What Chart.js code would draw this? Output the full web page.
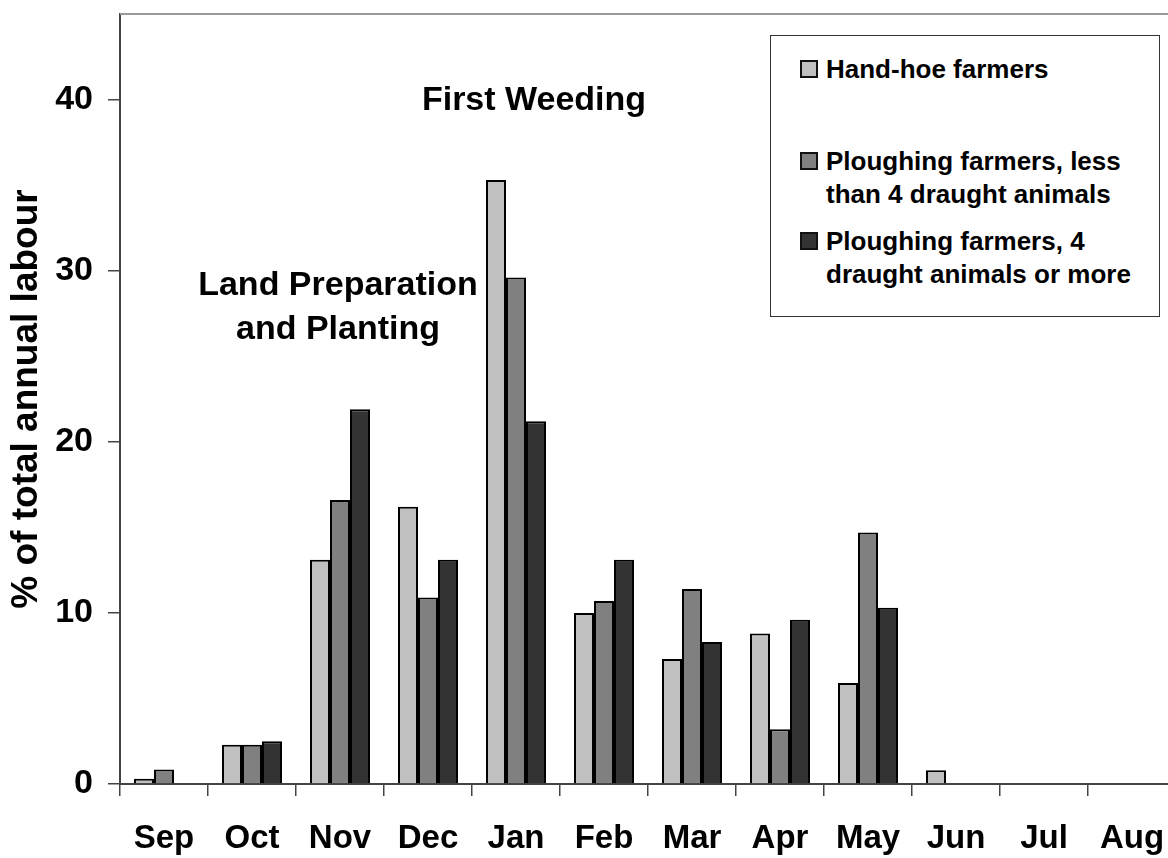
<!DOCTYPE html>
<html>
<head>
<meta charset="utf-8">
<title>Labour by month</title>
<script src="https://cdn.jsdelivr.net/npm/chart.js@4.4.0/dist/chart.umd.min.js"></script>
<style>
  html, body { margin: 0; padding: 0; background: #fff; overflow: hidden; }
  #wrap { position: relative; width: 1168px; height: 858px; overflow: hidden; }
  #chart { position: absolute; left: 0; top: 0; }
  .note {
    position: absolute;
    font: bold 34px "Liberation Sans", Arial, sans-serif;
    color: #000;
    text-align: center;
    line-height: 44px;
    white-space: nowrap;
    transform: translate(-50%, -50%);
  }
  #legend {
    position: absolute; left: 770px; top: 35px; width: 390px; height: 282px;
    box-sizing: border-box; border: 1px solid #333; background: #fff;
  }
  .item { position: absolute; left: 29px; width: 350px; }
  .swatch { position: absolute; left: 0; width: 18px; height: 18px; box-sizing: border-box; border: 2px solid #111; }
  .label {
    position: absolute; left: 26px; width: 320px;
    font: bold 26px "Liberation Sans", Arial, sans-serif; line-height: 33px; color: #000;
  }
</style>
</head>
<body>
<div id="wrap">
  <canvas id="chart" width="1180" height="858"></canvas>
  <div class="note" style="left:534px; top:98px;">First Weeding</div>
  <div class="note" style="left:338px; top:305px;">Land Preparation<br>and Planting</div>
  <div id="legend"></div>
</div>
<script>
// data (% of total annual labour)
const months = ["Sep", "Oct", "Nov", "Dec", "Jan", "Feb", "Mar", "Apr", "May", "Jun", "Jul", "Aug"];
const seriesNames = [
    "Hand-hoe farmers",
    "Ploughing farmers, less than 4 draught animals",
    "Ploughing farmers, 4 draught animals or more"
];
const handHoe     = [0.3, 2.3, 13.1, 16.2, 35.3, 10.0, 7.3, 8.8, 5.9, 0.8, null, null];
const ploughLess4 = [0.85, 2.3, 16.6, 10.9, 29.6, 10.7, 11.4, 3.2, 14.7, null, null, null];
const plough4More = [null, 2.5, 21.9, 13.1, 21.2, 13.1, 8.3, 9.6, 10.3, null, null, null];
const seriesColors = ["#c0c0c0", "#808080", "#333333"];

const boldFont = (size) => ({ family: '"Liberation Sans", Arial, sans-serif', size: size, weight: "bold" });

// grey line along the top of the plot area
const frameTop = {
    id: "frameTop",
    afterDraw(chart) {
        const { ctx, chartArea } = chart;
        ctx.save();
        ctx.strokeStyle = "#999";
        ctx.lineWidth = 2;
        ctx.beginPath();
        ctx.moveTo(chartArea.left, chartArea.top);
        ctx.lineTo(chartArea.right, chartArea.top);
        ctx.stroke();
        ctx.restore();
    }
};

const ctx = document.getElementById("chart").getContext("2d");
const chart = new Chart(ctx, {
    type: "bar",
    data: {
        labels: months,
        datasets: [handHoe, ploughLess4, plough4More].map((values, i) => ({
            label: seriesNames[i],
            data: values,
            backgroundColor: seriesColors[i],
            borderColor: "#000",
            borderWidth: 2,
            barPercentage: 1.0,
            categoryPercentage: 0.682
        }))
    },
    options: {
        responsive: false,
        animation: false,
        devicePixelRatio: 1,
        layout: { padding: { top: 14, right: 4, bottom: 0, left: 0 } },
        plugins: {
            legend: { display: false },
            tooltip: { enabled: false }
        },
        scales: {
            x: {
                offset: true,
                grid: { offset: true, drawOnChartArea: false, drawTicks: true, tickLength: 12, color: "#444", lineWidth: 1.5 },
                border: { color: "#444", width: 2 },
                ticks: { color: "#000", font: boldFont(33), padding: 23, maxRotation: 0, autoSkip: false },
                afterFit(scale) { scale.height = 74; scale.paddingLeft = 0; scale.paddingRight = 0; }
            },
            y: {
                min: 0,
                max: 45,
                ticks: { stepSize: 10, includeBounds: false, color: "#000", font: boldFont(34), padding: 15 },
                grid: { drawOnChartArea: false, drawTicks: true, tickLength: 12, color: "#444", lineWidth: 1.5 },
                border: { color: "#444", width: 2 },
                title: {
                    display: true,
                    text: "% of total annual labour",
                    color: "#000",
                    font: boldFont(37),
                    padding: { top: 5, bottom: 0 }
                },
                afterFit(scale) { scale.width = 120; scale.paddingTop = 0; scale.paddingBottom = 0; }
            }
        }
    },
    plugins: [frameTop]
});

// legend built from the datasets, laid out like the original box
const legendTops = [33, 125, 205];
const legendEl = document.getElementById("legend");
chart.data.datasets.forEach((ds, i) => {
    const item = document.createElement("div");
    item.className = "item";
    item.style.top = (legendTops[i] - 16.5) + "px";
    const sw = document.createElement("div");
    sw.className = "swatch";
    sw.style.top = "7.5px";
    sw.style.background = ds.backgroundColor;
    const lab = document.createElement("div");
    lab.className = "label";
    lab.style.top = "0px";
    lab.textContent = ds.label;
    item.appendChild(sw);
    item.appendChild(lab);
    legendEl.appendChild(item);
});
</script>
</body>
</html>
